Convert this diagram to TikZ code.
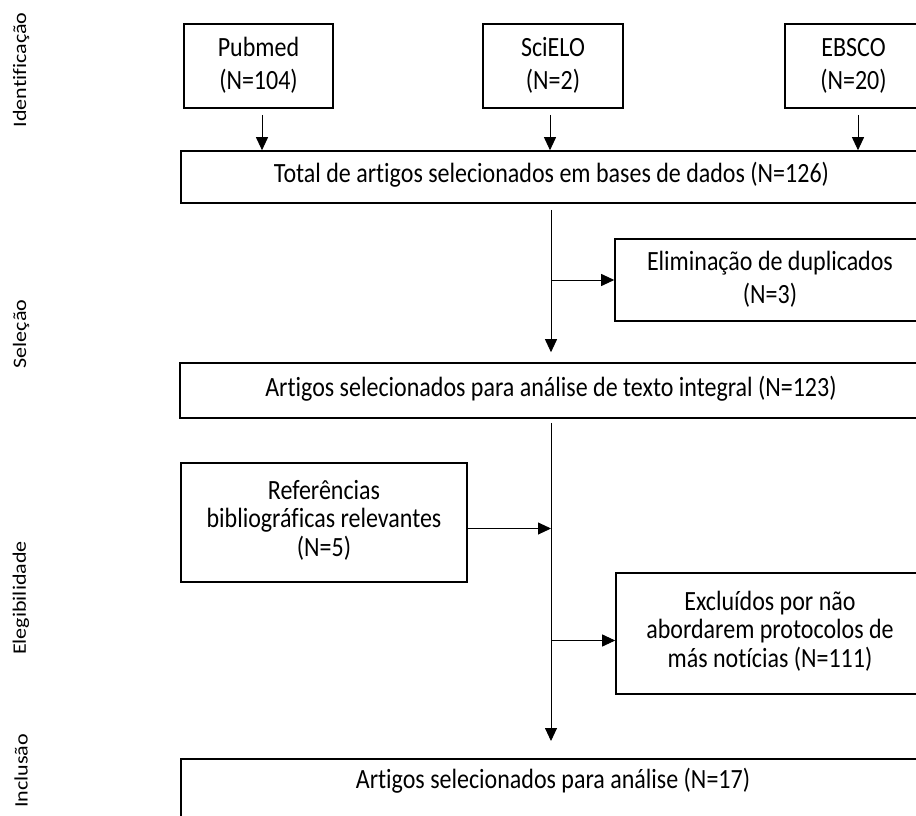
\documentclass[tikz,border=0pt]{standalone}
\usepackage{fontspec}
\setmainfont{Carlito}[Ligatures=NoCommon]
\usetikzlibrary{arrows.meta}
\newcommand\stx[2][24.1]{\scalebox{1}[1.16]{\fontsize{24}{#1}\selectfont\begin{tabular}{@{}c@{}}#2\end{tabular}}}
\newcommand\slab[1]{\scalebox{1.16}[1]{\fontsize{19}{23}\selectfont #1}}
\begin{document}
\begin{tikzpicture}[x=1pt,y=-1pt,
  box/.style={draw, line width=1.6pt, inner sep=0pt, align=center},
  arr/.style={-{Triangle[length=13pt,width=12pt]}, line width=0.9pt},
  stage/.style={rotate=90, inner sep=0pt}]
\useasboundingbox (0,0) rectangle (916,816);
% stage labels
\node[stage] (l1) at (21,70) {\slab{Identificação}};
\node[stage] (l2) at (21,334) {\slab{Seleção}};
\node[stage] (l3) at (21,598) {\slab{Elegibilidade}};
\node[stage] (l4) at (21,771) {\slab{Inclusão}};
% boxes
\node[box, minimum width=149pt, minimum height=84pt] (pub) at (258.5,66) {\stx[28.4]{Pubmed\\(N=104)}};
\node[box, minimum width=140pt, minimum height=84pt] (sci) at (553,66) {\stx[28.4]{SciELO\\(N=2)}};
\node[box, minimum width=137pt, minimum height=84pt] (ebs) at (853.5,66) {\stx[28.4]{EBSCO\\(N=20)}};
\node[box, minimum width=741pt, minimum height=52pt] (tot) at (551.5,177) {\stx{Total de artigos selecionados em bases de dados (N=126)}};
\node[box, minimum width=310pt, minimum height=82pt] (elim) at (770,280) {\stx[28.4]{Eliminação de duplicados\\(N=3)}};
\node[box, minimum width=742pt, minimum height=55pt] (art) at (551,390.5) {\stx{Artigos selecionados para análise de texto integral (N=123)}};
\node[box, minimum width=286pt, minimum height=119pt] (ref) at (324,522.5) {\stx{Referências\\bibliográficas relevantes\\(N=5)}};
\node[box, minimum width=308pt, minimum height=121pt] (exc) at (770,633.5) {\stx{Excluídos por não\\abordarem protocolos de\\más notícias (N=111)}};
\node[box, anchor=north, minimum width=741pt, minimum height=72pt] (fin) at (551.5,758) {};
\node[inner sep=0pt] (fint) at (553,783) {\stx{Artigos selecionados para análise (N=17)}};
% spine
\coordinate (sp) at (551,0);
% arrows
\draw[arr] ([xshift=3.5pt,yshift=-6pt]pub.south) -- ([xshift=3.5pt]pub.south |- tot.north);
\draw[arr] ([xshift=-3pt,yshift=-6pt]sci.south) -- ([xshift=-3pt]sci.south |- tot.north);
\draw[arr] ([xshift=4.5pt,yshift=-6pt]ebs.south) -- ([xshift=4.5pt]ebs.south |- tot.north);
\draw[arr] ([yshift=-6pt]tot.south -| sp) -- ([yshift=10pt]art.north -| sp);
\draw[arr] (sp |- elim.west) -- (elim.west);
\draw[arr] ([yshift=-4pt]art.south -| sp) -- ([yshift=17pt]fin.north -| sp);
\draw[arr] ([yshift=-6pt]ref.east) -- ([yshift=-6pt]ref.east -| sp);
\draw[arr] ([yshift=-7pt]exc.west -| sp) -- ([yshift=-7pt]exc.west);
\end{tikzpicture}
\end{document}
